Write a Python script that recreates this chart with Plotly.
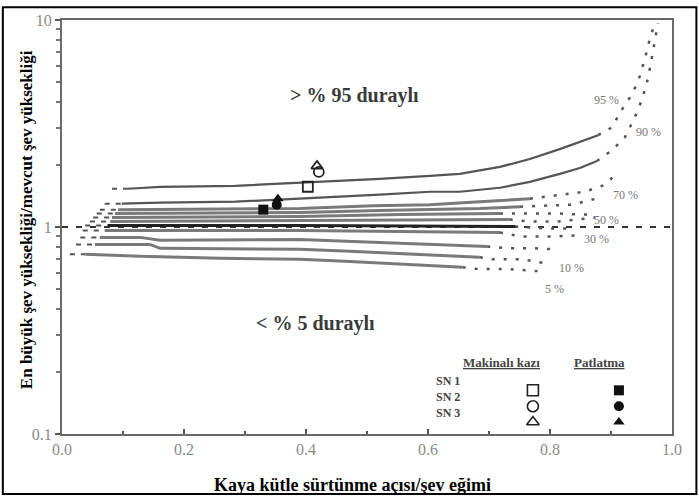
import math
import plotly.graph_objects as go

# ---------------- data ----------------
levels = [95, 90, 80, 70, 60, 50, 40, 30, 20, 10, 5]

c95_x = [0.108, 0.161, 0.284, 0.390, 0.521, 0.603, 0.652, 0.718, 0.767, 0.816, 0.849, 0.879]
c95_y = [1.530, 1.564, 1.581, 1.635, 1.708, 1.766, 1.806, 1.951, 2.131, 2.379, 2.570, 2.777]
c95_dx = [0.879, 0.902, 0.915, 0.931, 0.944, 0.956, 0.964, 0.972]
c95_dy = [2.777, 3.034, 3.581, 4.226, 4.988, 6.574, 8.200, 9.670]

c90_x = [0.098, 0.161, 0.284, 0.390, 0.521, 0.603, 0.652, 0.718, 0.767, 0.816, 0.849, 0.877]
c90_y = [1.296, 1.311, 1.325, 1.370, 1.432, 1.480, 1.480, 1.547, 1.653, 1.806, 1.929, 2.084]
c90_dx = [0.877, 0.902, 0.923, 0.939, 0.951, 0.961, 0.969, 0.977]
c90_dy = [2.084, 2.353, 2.717, 3.388, 4.134, 5.271, 7.101, 9.670]

c80_x = [0.092, 0.390, 0.510, 0.603, 0.685, 0.767]
c80_y = [1.213, 1.227, 1.268, 1.282, 1.325, 1.370]
c80_dx = [0.767, 0.816, 0.857, 0.890, 0.907]
c80_dy = [1.370, 1.432, 1.480, 1.599, 1.786]

c70_x = [0.087, 0.390, 0.521, 0.685, 0.751]
c70_y = [1.161, 1.174, 1.200, 1.227, 1.254]
c70_dx = [0.751, 0.792, 0.836, 0.882]
c70_dy = [1.254, 1.268, 1.282, 1.385]

c60_x = [0.082, 0.390, 0.554, 0.718]
c60_y = [1.111, 1.123, 1.148, 1.161]
c60_dx = [0.718, 0.767, 0.816, 0.849, 0.874]
c60_dy = [1.161, 1.161, 1.161, 1.148, 1.148]

c50_x = [0.079, 0.390, 0.685, 0.734]
c50_y = [1.063, 1.074, 1.086, 1.086]
c50_dx = [0.734, 0.767, 0.812, 0.849, 0.874]
c50_dy = [1.086, 1.063, 1.063, 1.086, 1.111]

c40_x = [0.075, 0.390, 0.743]
c40_y = [1.017, 1.017, 1.006]
c40_dx = [0.743, 0.792, 0.838]
c40_dy = [1.006, 0.984, 0.984]

c30_x = [0.070, 0.390, 0.718]
c30_y = [0.962, 0.962, 0.941]
c30_dx = [0.718, 0.751, 0.803, 0.841]
c30_dy = [0.941, 0.900, 0.900, 0.910]

c20_x = [0.062, 0.128, 0.161, 0.390, 0.554, 0.697]
c20_y = [0.891, 0.891, 0.862, 0.871, 0.834, 0.806]
c20_dx = [0.697, 0.730, 0.775, 0.808]
c20_dy = [0.806, 0.789, 0.789, 0.780]

c10_x = [0.054, 0.144, 0.161, 0.390, 0.472, 0.587, 0.685]
c10_y = [0.824, 0.824, 0.789, 0.780, 0.763, 0.738, 0.714]
c10_dx = [0.685, 0.705, 0.756, 0.792]
c10_dy = [0.714, 0.698, 0.698, 0.668]

c5_x = [0.038, 0.128, 0.259, 0.390, 0.464, 0.554, 0.657]
c5_y = [0.738, 0.722, 0.706, 0.698, 0.683, 0.661, 0.639]
c5_dx = [0.657, 0.682, 0.731, 0.780]
c5_dy = [0.639, 0.626, 0.626, 0.612]

# x where the dashed lead-in of each curve starts (same order as levels)
lead_x = [0.082, 0.070, 0.062, 0.057, 0.051, 0.046, 0.038, 0.034, 0.030, 0.023, 0.013]

# reference line (factor = 1)
ref_x = [0.0, 1.0]
ref_y = [1.0, 1.0]

# curve labels
label_text = ["95 %", "90 %", "70 %", "50 %", "30 %", "10 %", "5 %"]
label_x = [0.893, 0.961, 0.923, 0.893, 0.877, 0.836, 0.808]
label_y = [4.09, 2.87, 1.432, 1.086, 0.871, 0.633, 0.501]

# case points: SN1, SN2, SN3
case_names = ["SN 1", "SN 2", "SN 3"]
mk_x = [0.403, 0.421, 0.418]   # Makinalı kazı
mk_y = [1.565, 1.845, 1.970]
pt_x = [0.330, 0.352, 0.354]   # Patlatma
pt_y = [1.213, 1.280, 1.370]

x_ticks = [0.0, 0.2, 0.4, 0.6, 0.8, 1.0]
y_ticks = [0.1, 1, 10]
y_ticktext = ["0.1", "1", "10"]
y_minor = [0.2, 0.3, 0.4, 0.5, 0.6, 0.7, 0.8, 0.9, 2, 3, 4, 5, 6, 7, 8, 9]

# ---------------- figure ----------------
FONT = "Liberation Serif"
solid = {95: (c95_x, c95_y), 90: (c90_x, c90_y), 80: (c80_x, c80_y), 70: (c70_x, c70_y),
         60: (c60_x, c60_y), 50: (c50_x, c50_y), 40: (c40_x, c40_y), 30: (c30_x, c30_y),
         20: (c20_x, c20_y), 10: (c10_x, c10_y), 5: (c5_x, c5_y)}
dotted = {95: (c95_dx, c95_dy), 90: (c90_dx, c90_dy), 80: (c80_dx, c80_dy), 70: (c70_dx, c70_dy),
          60: (c60_dx, c60_dy), 50: (c50_dx, c50_dy), 40: (c40_dx, c40_dy), 30: (c30_dx, c30_dy),
          20: (c20_dx, c20_dy), 10: (c10_dx, c10_dy), 5: (c5_dx, c5_dy)}

fig = go.Figure()

fig.add_trace(go.Scatter(x=ref_x, y=ref_y, mode="lines",
                         line=dict(color="#333333", width=2, dash="6px,8px"),
                         hoverinfo="skip", showlegend=False))

for i, lv in enumerate(levels):
    sx, sy = solid[lv]
    dx, dy = dotted[lv]
    if lv in (95, 90):
        col, w = "#555555", 2.2
    elif lv == 40:
        col, w = "#222222", 3
    else:
        col, w = "#7a7a7a", 3
    fig.add_trace(go.Scatter(x=[lead_x[i], sx[0]], y=[sy[0], sy[0]], mode="lines",
                             line=dict(color="#555555", width=2, dash="5px,6px"),
                             hoverinfo="skip", showlegend=False))
    fig.add_trace(go.Scatter(x=dx, y=dy, mode="lines",
                             line=dict(color="#555555", width=2.5, dash="3px,9px"),
                             hoverinfo="skip", showlegend=False))
    fig.add_trace(go.Scatter(x=sx, y=sy, mode="lines",
                             line=dict(color=col, width=w, shape="linear"),
                             name=f"{lv} %", showlegend=False))

open_sym = ["square-open", "circle-open", "triangle-up-open"]
fill_sym = ["square", "circle", "triangle-up"]
for i in range(3):
    fig.add_trace(go.Scatter(x=[mk_x[i]], y=[mk_y[i]], mode="markers",
                             marker=dict(symbol=open_sym[i], size=10, color="#222222",
                                         line=dict(width=1.8, color="#222222")),
                             name=case_names[i] + " Makinalı kazı", showlegend=False))
    fig.add_trace(go.Scatter(x=[pt_x[i]], y=[pt_y[i]], mode="markers",
                             marker=dict(symbol=fill_sym[i], size=10, color="#111111"),
                             name=case_names[i] + " Patlatma", showlegend=False))

# legend block (overlay axis in plot-fraction units)
leg_rows = [0.1055, 0.067, 0.029]
fig.add_trace(go.Scatter(x=[0.772] * 3, y=leg_rows, xaxis="x2", yaxis="y2", mode="markers",
                         marker=dict(symbol=open_sym, size=11, color="#222222",
                                     line=dict(width=1.6, color="#222222")),
                         hoverinfo="skip", showlegend=False))
fig.add_trace(go.Scatter(x=[0.913] * 3, y=leg_rows, xaxis="x2", yaxis="y2", mode="markers",
                         marker=dict(symbol=fill_sym, size=10, color="#111111"),
                         hoverinfo="skip", showlegend=False))

ann = []
for t, x, y in zip(label_text, label_x, label_y):
    ann.append(dict(x=x, y=math.log10(y), yref="y", xref="x", text=t, showarrow=False,
                    font=dict(family=FONT, size=12, color="#777777")))

ann += [
    dict(x=0.480, y=math.log10(4.32), xref="x", yref="y", text="<b>&gt; % 95 duraylı</b>",
         showarrow=False, font=dict(family=FONT, size=20, color="#3a3a3a")),
    dict(x=0.415, y=math.log10(0.3406), xref="x", yref="y", text="<b>&lt; % 5 duraylı</b>",
         showarrow=False, font=dict(family=FONT, size=20, color="#3a3a3a")),
    dict(x=0.787, y=0.149, xref="paper", yref="paper", text="<u><b>Makinalı kazı</b></u>",
         showarrow=False, font=dict(family=FONT, size=13, color="#444444")),
    dict(x=0.926, y=0.149, xref="paper", yref="paper", text="<u><b>Patlatma</b></u>",
         showarrow=False, font=dict(family=FONT, size=13, color="#444444")),
    dict(x=-0.058, y=0.518, xref="paper", yref="paper", xanchor="center", yanchor="middle",
         text="<b>En büyük şev yüksekliği/mevcut şev yüksekliği</b>", textangle=-90,
         showarrow=False, font=dict(family=FONT, size=17, color="#000000")),
    dict(x=0.477, y=-0.122, xref="paper", yref="paper", xanchor="center", yanchor="middle",
         text="<b>Kaya kütle sürtünme açısı/şev eğimi</b>",
         showarrow=False, font=dict(family=FONT, size=18, color="#000000")),
]
for nm, yy in zip(case_names, leg_rows):
    ann.append(dict(x=0.633, y=yy, xref="paper", yref="paper", text=f"<b>{nm}</b>",
                    showarrow=False, font=dict(family=FONT, size=12, color="#444444")))

fig.update_layout(
    width=699, height=497,
    margin=dict(l=62, r=27, t=17, b=63),
    paper_bgcolor="white", plot_bgcolor="white",
    showlegend=False,
    annotations=ann,
    xaxis=dict(range=[0, 1], tickvals=x_ticks, tickformat=".1f", showgrid=False, zeroline=False,
               showline=True, linecolor="#6a6a6a", linewidth=2, mirror=True,
               ticks="inside", ticklen=5, tickcolor="#555555", tickwidth=2,
               minor=dict(dtick=0.1, ticks="inside", ticklen=3, tickcolor="#555555", tickwidth=2),
               tickfont=dict(family=FONT, size=16, color="#8a8a8a")),
    yaxis=dict(type="log", range=[-1, 1], tickvals=y_ticks, ticktext=y_ticktext, showgrid=False,
               zeroline=False, showline=True, linecolor="#6a6a6a", linewidth=2, mirror=True,
               ticks="outside", ticklen=5, tickcolor="#555555", tickwidth=2,
               minor=dict(tickvals=y_minor, ticks="outside", ticklen=4, tickcolor="#777777",
                          tickwidth=1.5, showgrid=False),
               tickfont=dict(family=FONT, size=16, color="#8a8a8a")),
    xaxis2=dict(range=[0, 1], overlaying="x", visible=False, fixedrange=True),
    yaxis2=dict(range=[0, 1], overlaying="y", visible=False, fixedrange=True),
    shapes=[dict(type="rect", xref="paper", yref="paper", x0=-0.097, x1=1.04, y0=-0.145, y1=1.031,
                 line=dict(color="#000000", width=2))],
)

fig.write_html("out.html", config={"displayModeBar": False},
               post_script="document.body.style.margin='0px';")
